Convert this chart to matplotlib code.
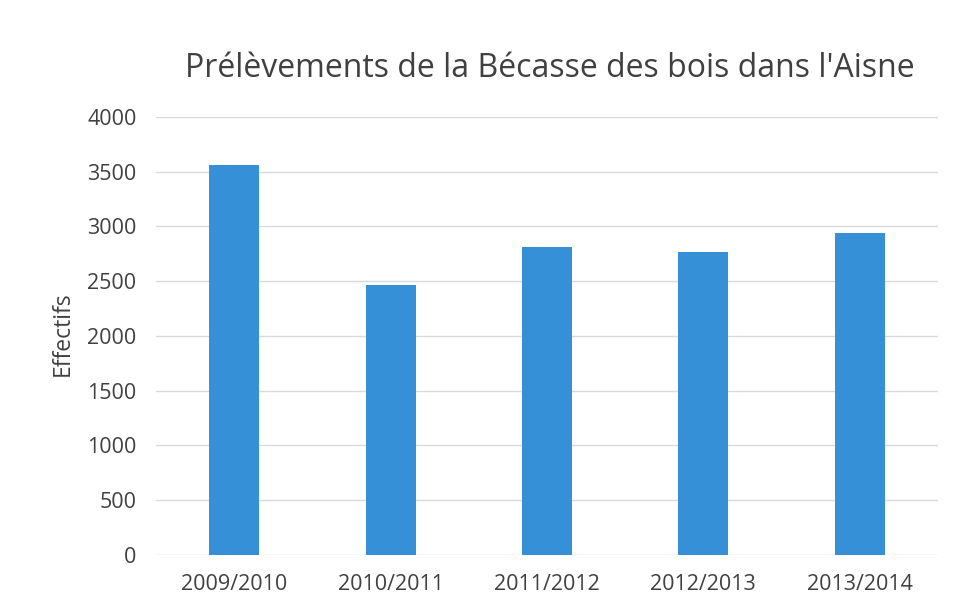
import matplotlib
matplotlib.use("Agg")
import matplotlib.pyplot as plt
import numpy as np

categories = ["2009/2010", "2010/2011", "2011/2012", "2012/2013", "2013/2014"]
values = [3560, 2470, 2810, 2770, 2940]
yticks = [0, 500, 1000, 1500, 2000, 2500, 3000, 3500, 4000]
title = "Prélèvements de la Bécasse des bois dans l'Aisne"
ylabel = "Effectifs"

plt.rcParams['font.family'] = ['Open Sans', 'DejaVu Sans']

fig = plt.figure(figsize=(9.57, 6.11), dpi=100)
ax = fig.add_axes([0.163, 0.0917, 0.817, 0.7168])

x = np.arange(len(categories))
ax.bar(x, values, width=0.32, color='#3590d8', zorder=3)
ax.set_xlim(-0.5, len(categories) - 0.5)
ax.set_ylim(0, 4000)
ax.set_yticks(yticks)
ax.set_xticks(x)
ax.set_xticklabels(categories)
ax.grid(axis='y', color='#d9d9d9', linewidth=1, zorder=0)
for s in ax.spines.values():
    s.set_visible(False)
ax.tick_params(axis='both', length=0, labelsize=15.5, colors='#404040')
ax.tick_params(axis='x', pad=14)
ax.tick_params(axis='y', pad=14)
ax.set_ylabel(ylabel, fontsize=16.5, color='#404040')
ax.yaxis.set_label_coords(-0.104, 0.505)
fig.text(0.575, 0.888, title, fontsize=23, color='#404040', ha='center', va='center')

fig.savefig("out.png", dpi=100)
